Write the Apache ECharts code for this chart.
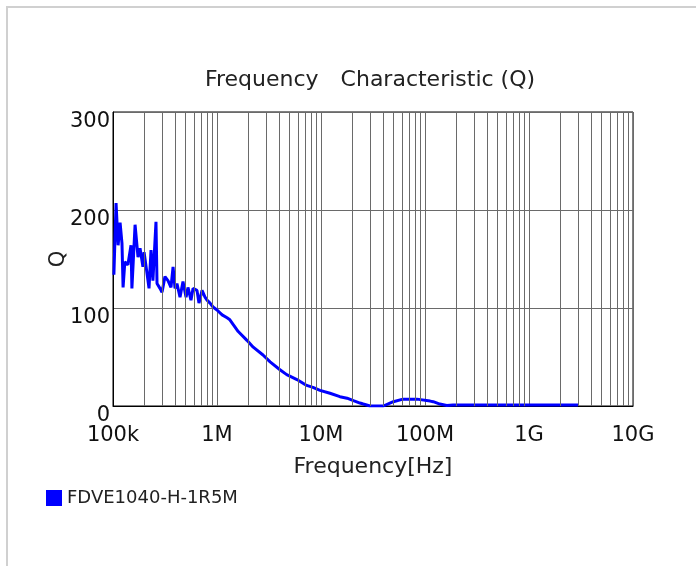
<!DOCTYPE html>
<html>
<head>
<meta charset="utf-8">
<script src="https://cdn.jsdelivr.net/npm/echarts@6/dist/echarts.min.js"></script>
<style>
html,body{margin:0;padding:0;background:#fff;}
#chart{width:696px;height:566px;}
</style>
</head>
<body>
<div id="chart"></div>
<script>
var seriesName = 'FDVE1040-H-1R5M';
var freqHz = [1.02e5,1.07e5,1.12e5,1.17e5,1.22e5,1.25e5,1.30e5,1.39e5,1.49e5,1.52e5,1.63e5,1.74e5,1.82e5,1.94e5,1.99e5,2.12e5,2.22e5,2.32e5,2.42e5,2.59e5,2.65e5,2.83e5,2.96e5,3.16e5,3.38e5,3.61e5,3.78e5,3.95e5,4.12e5,4.41e5,4.71e5,5.04e5,5.26e5,5.62e5,5.88e5,6.42e5,6.71e5,7.18e5,7.67e5,8.02e5,8.57e5,9.16e5,1.0e6,1.12e6,1.25e6,1.33e6,1.6e6,1.94e6,2.23e6,2.77e6,3.24e6,4.03e6,4.68e6,5.87e6,7.28e6,8.37e6,9.77e6,1.22e7,1.52e7,1.78e7,2.05e7,2.37e7,2.55e7,2.96e7,3.69e7,3.98e7,4.6e7,4.96e7,6.14e7,8.37e7,1.12e8,1.2e8,1.39e8,1.62e8,1.86e8,5.26e8,1.0e9,2.96e9];
var qValues = [134,207,164,187,166,121,147,144,164,120,185,152,161,142,157,136,120,159,128,188,125,120,116,132,128,121,142,120,125,111,127,111,121,108,120,118,105,118,111,108,105,101,98,93,90,88,76,67,60,52,45,37,32,27,21,19,16,13,9.5,8,5.4,3,2,0,0,0,3,4.4,7,7,5,4.4,2,0.5,1,1,1,1];
var xTickLabels = {1e5:'100k',1e6:'1M',1e7:'10M',1e8:'100M',1e9:'1G',1e10:'10G'};
var decades = [1e5,1e6,1e7,1e8,1e9];
var minorMultipliers = [2,3,4,5,6,7,8,9];

var minorLines = [];
decades.forEach(function(d){
  minorMultipliers.forEach(function(m){ minorLines.push({xAxis: d*m}); });
});

var chart = echarts.init(document.getElementById('chart'));
var font = 'DejaVu Sans';
var gridColor = '#6a6a6a';
chart.setOption({
  animation: false,
  backgroundColor: '#fff',
  graphic: [{
    type: 'rect', silent: true,
    shape: {x: 7, y: 7, width: 720, height: 600},
    style: {fill: 'none', stroke: '#d0d0d0', lineWidth: 2}
  }],
  title: {
    text: 'Frequency\u3000Characteristic (Q)',
    left: 365, textAlign: 'center', top: 64,
    textStyle: {fontFamily: font, fontSize: 22, fontWeight: 'normal', color: '#222'}
  },
  legend: {
    left: 41, top: 484, icon: 'rect', itemWidth: 16, itemHeight: 16,
    textStyle: {fontFamily: font, fontSize: 18, color: '#222'},
    data: [seriesName]
  },
  grid: {left: 113, right: 63, top: 112, bottom: 160, show: true, borderColor: '#000', borderWidth: 1},
  xAxis: {
    type: 'log', logBase: 10, min: 1e5, max: 1e10,
    name: 'Frequency[Hz]', nameLocation: 'middle', nameGap: 50, nameMoveOverlap: false,
    nameTextStyle: {fontFamily: font, fontSize: 22, color: '#222'},
    axisLine: {lineStyle: {color: '#000'}},
    axisTick: {show: false},
    axisLabel: {fontFamily: font, fontSize: 21, color: '#111', margin: 19,
      formatter: function(v){ return xTickLabels[Math.round(v)] || ''; }},
    splitLine: {show: true, lineStyle: {color: gridColor, width: 1}}
  },
  yAxis: {
    type: 'value', min: 0, max: 300, interval: 100,
    name: 'Q', nameLocation: 'middle', nameGap: 44, nameRotate: 90, nameMoveOverlap: false,
    nameTextStyle: {fontFamily: font, fontSize: 21, color: '#222'},
    axisLine: {show: true, lineStyle: {color: '#000'}},
    axisTick: {show: false},
    axisLabel: {fontFamily: font, fontSize: 21, color: '#111', margin: 3, verticalAlign: 'top', lineHeight: 20},
    splitLine: {show: true, lineStyle: {color: gridColor, width: 1}}
  },
  series: [
    {
      type: 'line', name: 'minor-grid', data: [], z: 1, silent: true,
      markLine: {silent: true, symbol: 'none', label: {show: false},
        lineStyle: {type: 'solid', color: gridColor, width: 1}, data: minorLines}
    },
    {
      type: 'line', name: seriesName, z: 3,
      data: freqHz.map(function(f, i){ return [f, qValues[i]]; }),
      showSymbol: false, symbol: 'none',
      lineStyle: {color: '#0000ff', width: 3},
      itemStyle: {color: '#0000ff'}
    }
  ]
});
</script>
</body>
</html>
